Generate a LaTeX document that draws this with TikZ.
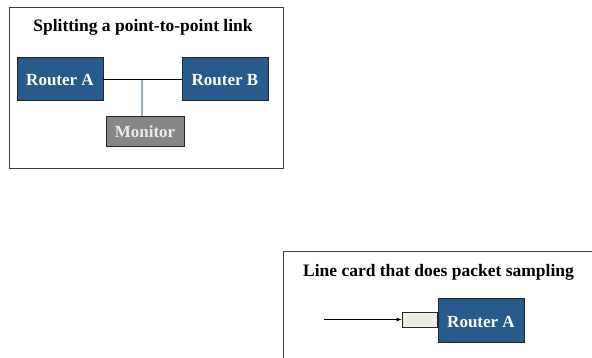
\documentclass[tikz,border=0pt]{standalone}
\usepackage{fontspec}
\setmainfont{Liberation Serif}
\usetikzlibrary{arrows.meta}
\definecolor{routerblue}{HTML}{285A8C}
\definecolor{mongray}{HTML}{878787}
\definecolor{linkblue}{HTML}{8EB0D0}
\definecolor{cardfill}{HTML}{EEEEE4}
\begin{document}
\begin{tikzpicture}[x=1pt,y=-1pt,
  frame/.style={draw=black!75,line width=0.9pt},
  boxtext/.style={font=\fontsize{17}{18}\selectfont\bfseries,inner sep=0pt,text height=14pt,text depth=0pt},
  router/.style={boxtext,draw=black!85,fill=routerblue,line width=0.9pt,text=white},
  monitorbox/.style={boxtext,draw=black!85,fill=mongray,line width=0.9pt,text=white!92!black},
  cardbox/.style={draw=black!85,fill=cardfill,line width=0.9pt,inner sep=0pt},
  titletext/.style={font=\fontsize{17.5}{19}\selectfont\bfseries,inner sep=0pt,anchor=base}]
\useasboundingbox (0,0) rectangle (592,358);
% first panel
\draw[frame] (9,7) rectangle (283,168);
\node[titletext] (t1) at (143,31.5) {Splitting a point-to-point link};
\node[router,minimum width=86pt,minimum height=43pt] (ra) at (60,78.5) {Router A};
\node[router,minimum width=86pt,minimum height=43pt] (rb) at (225,78.5) {Router B};
\node[monitorbox,minimum width=78pt,minimum height=30pt] (mon) at (145,131) {Monitor};
\coordinate (tap) at (142,80);
\draw[black,line width=1pt] (ra.east |- tap) -- (rb.west |- tap);
\draw[linkblue,line width=1.6pt] (tap) -- (tap |- mon.north);
% second panel
\draw[frame] (283,251) -- (596,251);
\draw[frame] (283,251) -- (283,362);
\node[titletext] (t2) at (438.5,276.7) {Line card that does packet sampling};
\node[router,minimum width=86pt,minimum height=44pt] (rc) at (481,320) {Router A};
\node[cardbox,minimum width=35pt,minimum height=15pt,anchor=east] (card) at (rc.west |- 0,319.5) {};
\coordinate (src) at (324,319.5);
\draw[line width=0.9pt,-{Latex[length=5pt,width=4pt]}] (src) -- (card.west);
\end{tikzpicture}
\end{document}
